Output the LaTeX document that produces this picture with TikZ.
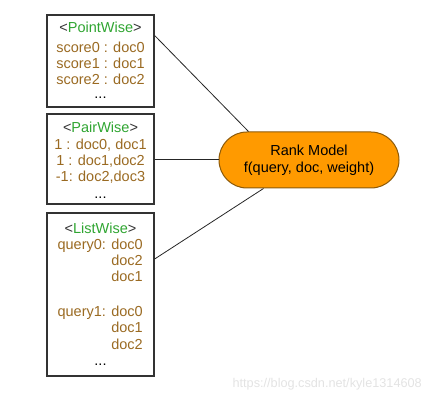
\documentclass[tikz,border=0pt]{standalone}
\usepackage{fontspec}
\setmainfont{Liberation Sans}
\definecolor{tgreen}{HTML}{2FA531}
\definecolor{tbrown}{HTML}{9A6A22}
\definecolor{rfill}{HTML}{FF9A00}
\definecolor{rborder}{HTML}{8C5A0A}
\definecolor{boxline}{HTML}{333333}
\definecolor{wmark}{HTML}{E3E3E3}
\begin{document}
\begin{tikzpicture}[x=1pt,y=-1pt,
  frame/.style={draw=boxline,line width=1.3pt,minimum width=107pt,inner sep=0pt},
  head/.style={anchor=base,text=black!80,font=\fontsize{14.5}{16}\selectfont,inner sep=0pt},
  row/.style={anchor=base,text=tbrown,font=\fontsize{14.5}{16}\selectfont,inner sep=0pt},
  rowr/.style={row,anchor=base east},
  dots/.style={anchor=base,text=black,font=\fontsize{14.5}{16}\selectfont,inner sep=0pt},
  rank/.style={draw=rborder,fill=rfill,line width=1pt,rounded corners=28pt,minimum width=180pt,minimum height=56pt,align=center,font=\fontsize{14.5}{17}\selectfont},
  link/.style={draw=black!85,line width=0.8pt}]
\useasboundingbox (0,0) rectangle (432,403);
% boxes
\node[frame,minimum height=92pt] (point) at (100.5,61) {};
\node[frame,minimum height=90pt] (pair) at (100.5,159) {};
\node[frame,minimum height=163pt] (list) at (100.5,294.5) {};
% PointWise
\node[head] (ph) at (100.5,33) {<\textcolor{tgreen}{PointWise}>};
\node[row] (p0) at (100.5,53) {score0 : doc0};
\node[row] (p1) at (100.5,69) {score1 : doc1};
\node[row] (p2) at (100.5,85) {score2 : doc2};
\node[dots] (pd) at (100.5,99) {...};
% PairWise
\node[head] (qh) at (100.5,133) {<\textcolor{tgreen}{PairWise}>};
\node[row] (q0) at (100.5,150) {1 : doc0, doc1};
\node[row] (q1) at (100.5,166) {1 : doc1,doc2};
\node[row] (q2) at (100.5,182) {-1: doc2,doc3};
\node[dots] (qd) at (100.5,199) {...};
% ListWise
\node[head] (lh) at (100.5,234) {<\textcolor{tgreen}{ListWise}>};
\node[rowr] (l0) at (143,250) {query0: doc0};
\node[rowr] (l1) at (143,266) {doc2};
\node[rowr] (l2) at (143,282) {doc1};
\node[rowr] (l3) at (143,317) {query1: doc0};
\node[rowr] (l4) at (143,333) {doc1};
\node[rowr] (l5) at (143,350) {doc2};
\node[dots] (ld) at (100.5,366) {...};
% rank model
\node[rank] (model) at (309,160) {Rank Model\\f(query, doc, weight)};
% connectors
\draw[link] ([yshift=25.5pt]point.east) -- ([xshift=30pt]model.north west);
\draw[link] (pair.east) -- (pair.east -| model.west);
\draw[link] ([yshift=35.5pt]list.east) -- ([xshift=45pt]model.south west);
% watermark
\node[anchor=east,text=wmark,font=\fontsize{12.7}{14}\selectfont,inner sep=0pt] (wm) at (422,384) {https://blog.csdn.net/kyle1314608};
\end{tikzpicture}
\end{document}
